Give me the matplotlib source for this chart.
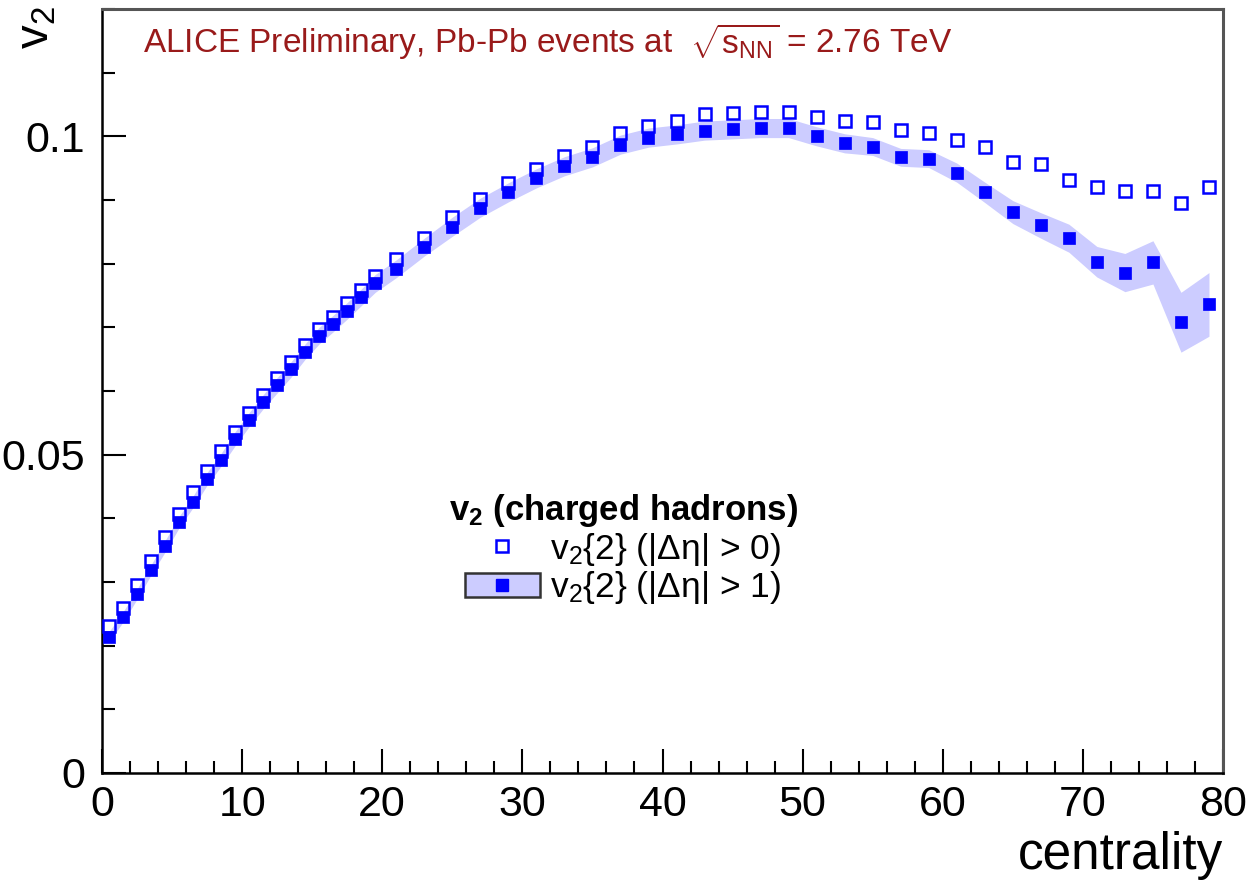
import numpy as np
import matplotlib
matplotlib.use("Agg")
import matplotlib.pyplot as plt
from matplotlib.lines import Line2D
from matplotlib.patches import Patch

plt.rcParams['font.family'] = ['Liberation Sans', 'DejaVu Sans']
plt.rcParams['mathtext.fontset'] = 'custom'
plt.rcParams['mathtext.rm'] = 'Liberation Sans'
plt.rcParams['mathtext.it'] = 'Liberation Sans:italic'
plt.rcParams['mathtext.bf'] = 'Liberation Sans:bold'

# ---- data ----
centrality = [0.5, 1.5, 2.5, 3.5, 4.5, 5.5, 6.5, 7.5, 8.5, 9.5,
              10.5, 11.5, 12.5, 13.5, 14.5, 15.5, 16.5, 17.5, 18.5, 19.5,
              21, 23, 25, 27, 29, 31, 33, 35, 37, 39,
              41, 43, 45, 47, 49, 51, 53, 55, 57, 59,
              61, 63, 65, 67, 69, 71, 73, 75, 77, 79]

v2_gap0 = [0.0231, 0.0259, 0.0296, 0.0333, 0.0371, 0.0407, 0.0442, 0.0475, 0.0505, 0.0536,
           0.0566, 0.0594, 0.0621, 0.0645, 0.0673, 0.0698, 0.0717, 0.0739, 0.0758, 0.0780,
           0.0807, 0.0840, 0.0874, 0.0902, 0.0926, 0.0948, 0.0969, 0.0984, 0.1005, 0.1016,
           0.1024, 0.1035, 0.1036, 0.1039, 0.1039, 0.1030, 0.1024, 0.1022, 0.1010, 0.1005,
           0.0994, 0.0984, 0.0959, 0.0956, 0.0931, 0.0921, 0.0914, 0.0914, 0.0896, 0.0921]

v2_gap1 = [0.0214, 0.0245, 0.0281, 0.0319, 0.0356, 0.0394, 0.0426, 0.0462, 0.0492, 0.0525,
           0.0555, 0.0583, 0.0609, 0.0634, 0.0662, 0.0687, 0.0706, 0.0726, 0.0747, 0.0769,
           0.0792, 0.0826, 0.0858, 0.0888, 0.0912, 0.0934, 0.0953, 0.0967, 0.0987, 0.0998,
           0.1003, 0.1009, 0.1011, 0.1013, 0.1013, 0.1000, 0.0989, 0.0984, 0.0967, 0.0965,
           0.0943, 0.0912, 0.0881, 0.0860, 0.0840, 0.0803, 0.0786, 0.0802, 0.0708, 0.0736]

v2_gap1_sys = [0.0008, 0.0008, 0.0008, 0.0008, 0.0009, 0.0009, 0.0009, 0.0010, 0.0010, 0.0011,
               0.0011, 0.0011, 0.0012, 0.0012, 0.0012, 0.0013, 0.0013, 0.0013, 0.0013, 0.0014,
               0.0014, 0.0014, 0.0015, 0.0015, 0.0015, 0.0015, 0.0015, 0.0015, 0.0015, 0.0015,
               0.0015, 0.0015, 0.0015, 0.0015, 0.0015, 0.0015, 0.0015, 0.0014, 0.0014, 0.0014,
               0.0015, 0.0016, 0.0018, 0.0020, 0.0022, 0.0024, 0.0030, 0.0034, 0.0047, 0.0050]

x = np.array(centrality)
y0 = np.array(v2_gap0)
y1 = np.array(v2_gap1)
e1 = np.array(v2_gap1_sys)

blue = '#0000ff'
band = '#ccccff'

fig = plt.figure(figsize=(12.49, 8.94), dpi=100)
ax = fig.add_axes([102/1249, 1 - 773/894, (1223-102)/1249, (773-9)/894])

ax.fill_between(x, y1 - e1, y1 + e1, color=band, lw=0, zorder=1)
ax.plot(x, y1, ls='none', marker='s', ms=8.5, mfc=blue, mec=blue, mew=0.5, zorder=3)
ax.plot(x, y0, ls='none', marker='s', ms=8.3, mfc='none', mec=blue, mew=1.8, zorder=4)

ax.set_xlim(0, 80)
ax.set_ylim(0, 0.12)
ax.set_xticks([0, 10, 20, 30, 40, 50, 60, 70, 80])
ax.set_xticks(np.arange(0, 80.1, 2), minor=True)
ax.set_yticks([0, 0.05, 0.1])
ax.set_yticklabels(['0', '0.05', '0.1'])
ax.set_yticks(np.arange(0, 0.1201, 0.01), minor=True)
ax.tick_params(axis='both', which='both', direction='in', top=False, right=False,
               width=1.5, labelsize=31, colors='black')
ax.tick_params(axis='both', which='major', length=17)
ax.tick_params(axis='both', which='minor', length=9)
ax.tick_params(axis='y', which='major', pad=12)
ax.tick_params(axis='x', which='major', pad=9)

for s in ['left', 'bottom']:
    ax.spines[s].set_linewidth(1.8)
    ax.spines[s].set_color('black')
for s in ['top', 'right']:
    ax.spines[s].set_linewidth(2.2)
    ax.spines[s].set_color('#555555')

ax.set_xlabel('centrality', fontsize=37, loc='right', labelpad=4)
ax.text(-0.058, 1.003, r'v$_2$', rotation=90, ha='center', va='top', fontsize=34,
        transform=ax.transAxes)

ax.text(0.0366, 0.957, r'ALICE Preliminary, Pb-Pb events at  $\sqrt{\mathrm{s}_{\mathrm{NN}}}$ = 2.76 TeV',
        color='#991a1a', fontsize=24, ha='left', va='center', transform=ax.transAxes)

h_open = Line2D([], [], ls='none', marker='s', ms=8.3, mfc='none', mec=blue, mew=1.8)
h_band = Patch(facecolor=band, edgecolor='#333333', lw=1.8)
h_fill = Line2D([], [], ls='none', marker='s', ms=8.5, mfc=blue, mec=blue)
leg = ax.legend([h_open, (h_band, h_fill)],
                ['v$_2${2} (|Δη| > 0)', 'v$_2${2} (|Δη| > 1)'],
                title=r'$\mathbf{v_2}$ (charged hadrons)',
                title_fontproperties={'weight': 'bold', 'size': 25},
                fontsize=25.5, frameon=False, loc='center',
                bbox_to_anchor=(0.465, 0.293), borderpad=0, borderaxespad=0,
                handlelength=2.1, handletextpad=0.3, labelspacing=0.05)

fig.savefig('out.png', dpi=100, facecolor='white')
